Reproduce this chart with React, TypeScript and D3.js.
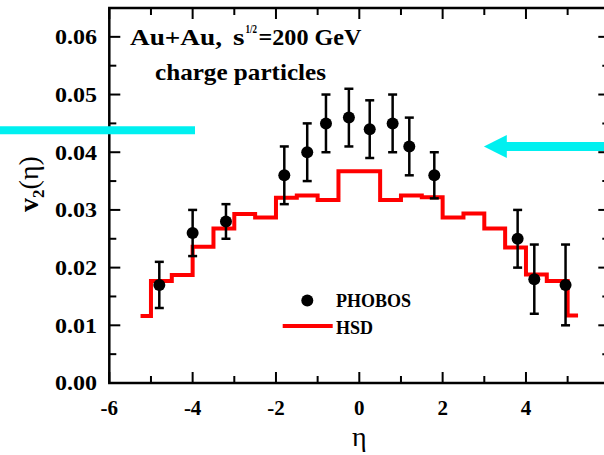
import React from "react";
import * as d3 from "d3";

// PHOBOS measured v2 vs pseudorapidity (points with symmetric errors)
const phobosEta = [-4.8, -4.0, -3.2, -1.8, -1.25, -0.8, -0.25, 0.25, 0.8, 1.2, 1.8, 3.8, 4.2, 4.95];
const phobosV2 = [0.017, 0.026, 0.028, 0.036, 0.040, 0.045, 0.046, 0.044, 0.045, 0.041, 0.036, 0.025, 0.018, 0.017];
const phobosErr = [0.004, 0.004, 0.003, 0.005, 0.005, 0.005, 0.005, 0.005, 0.005, 0.005, 0.004, 0.005, 0.006, 0.007];

// HSD histogram: bin edges and v2 per bin
const hsdEdges = [-5.25, -5, -4.5, -4, -3.5, -3, -2.5, -2, -1.5, -1, -0.5, 0.5, 1, 1.5, 2, 2.5, 3, 3.5, 4, 4.5, 5, 5.25];
const hsdV2 = [0.0116, 0.0177, 0.0187, 0.0236, 0.0268, 0.0293, 0.0287, 0.0321, 0.0325, 0.0317, 0.0367,
  0.0317, 0.0325, 0.0322, 0.0287, 0.0294, 0.0268, 0.0235, 0.0188, 0.0177, 0.0117];

const xMajorTicks = [-6, -4, -2, 0, 2, 4, 6];
const xMinorTicks = [-5, -3, -1, 1, 3, 5];
const yMajorTicks = [0, 0.01, 0.02, 0.03, 0.04, 0.05, 0.06];
const yMinorTicks = [0.005, 0.015, 0.025, 0.035, 0.045, 0.055];

const W = 604;
const H = 455;
const FONT = "'Liberation Serif', 'Times New Roman', serif";

export default function App() {
  const x = d3.scaleLinear().domain([-6, 6]).range([109.3, 609.3]);
  const y = d3.scaleLinear().domain([0, 0.065]).range([383, 8]);
  const [x0, x1] = x.range();
  const [yb, yt] = y.range();

  const stepPts: [number, number][] = hsdEdges.map((e, i) => [e, hsdV2[Math.min(i, hsdV2.length - 1)]]);
  const stepLine = d3
    .line<[number, number]>()
    .x((d) => x(d[0]))
    .y((d) => y(d[1]))
    .curve(d3.curveStepAfter)(stepPts) as string;

  const axisStroke = 2.5;
  const major = 11;
  const minor = 7;

  // annotation arrows (cyan)
  const leftBarY = y(0.0438);
  const rightArrowY = y(0.041);
  const tipX = x(2.99);
  const headX = x(3.54);
  const cyan = "#00f0f0";

  return (
    <svg width={W} height={H} style={{ position: "absolute", left: 0, top: 0, background: "#fff" }} fontFamily={FONT}>
      <rect width={W} height={H} fill="#fff" />

      {/* frame */}
      <rect x={x0} y={yt} width={x1 - x0} height={yb - yt} fill="none" stroke="#000" strokeWidth={axisStroke} />

      {/* ticks on all four sides, pointing inward */}
      {xMajorTicks.map((t) => (
        <g key={"xM" + t}>
          <line x1={x(t)} x2={x(t)} y1={yb} y2={yb - major} stroke="#000" strokeWidth={2} />
          <line x1={x(t)} x2={x(t)} y1={yt} y2={yt + major} stroke="#000" strokeWidth={2} />
        </g>
      ))}
      {xMinorTicks.map((t) => (
        <g key={"xm" + t}>
          <line x1={x(t)} x2={x(t)} y1={yb} y2={yb - minor} stroke="#000" strokeWidth={2} />
          <line x1={x(t)} x2={x(t)} y1={yt} y2={yt + minor} stroke="#000" strokeWidth={2} />
        </g>
      ))}
      {yMajorTicks.map((t) => (
        <g key={"yM" + t}>
          <line x1={x0} x2={x0 + major} y1={y(t)} y2={y(t)} stroke="#000" strokeWidth={2} />
          <line x1={x1} x2={x1 - major} y1={y(t)} y2={y(t)} stroke="#000" strokeWidth={2} />
        </g>
      ))}
      {yMinorTicks.map((t) => (
        <g key={"ym" + t}>
          <line x1={x0} x2={x0 + minor} y1={y(t)} y2={y(t)} stroke="#000" strokeWidth={2} />
          <line x1={x1} x2={x1 - minor} y1={y(t)} y2={y(t)} stroke="#000" strokeWidth={2} />
        </g>
      ))}

      {/* tick labels */}
      {xMajorTicks.map((t) => (
        <text key={"xl" + t} x={x(t)} y={415} textAnchor="middle" fontSize={21} fontWeight="bold">
          {t}
        </text>
      ))}
      {yMajorTicks.map((t) => (
        <text
          key={"yl" + t}
          x={55}
          y={y(t) + 7.3}
          fontSize={21.5}
          fontWeight="bold"
          textLength={42}
          lengthAdjust="spacingAndGlyphs"
        >
          {d3.format(".2f")(t)}
        </text>
      ))}

      {/* axis titles */}
      <text x={x(0)} y={446} textAnchor="middle" fontSize={28}>
        η
      </text>
      <text transform="translate(38,184) rotate(-90)" textAnchor="middle" fontSize={28}>
        <tspan fontWeight="bold">v</tspan>
        <tspan fontSize={17} dy={6} fontWeight="bold">2</tspan>
        <tspan dy={-6}>(η)</tspan>
      </text>

      {/* HSD step curve */}
      <path d={stepLine} fill="none" stroke="#ff0000" strokeWidth={4} strokeLinejoin="miter" />

      {/* PHOBOS points */}
      {phobosEta.map((e, i) => {
        const cx = x(e);
        const top = y(phobosV2[i] + phobosErr[i]);
        const bot = y(phobosV2[i] - phobosErr[i]);
        return (
          <g key={"p" + i}>
            <line x1={cx} x2={cx} y1={top} y2={bot} stroke="#000" strokeWidth={2.5} />
            <line x1={cx - 4.5} x2={cx + 4.5} y1={top} y2={top} stroke="#000" strokeWidth={2.5} />
            <line x1={cx - 4.5} x2={cx + 4.5} y1={bot} y2={bot} stroke="#000" strokeWidth={2.5} />
            <circle cx={cx} cy={y(phobosV2[i])} r={6} fill="#000" />
          </g>
        );
      })}

      {/* legend */}
      <circle cx={307.3} cy={300.5} r={6} fill="#000" />
      <text x={336} y={306.5} fontSize={18} fontWeight="bold">PHOBOS</text>
      <line x1={282.7} x2={332.7} y1={326} y2={326} stroke="#ff0000" strokeWidth={4} />
      <text x={336} y={333.5} fontSize={18} fontWeight="bold">HSD</text>

      {/* header text */}
      <g fontWeight="bold">
        <text x={130} y={45} fontSize={23} textLength={92} lengthAdjust="spacingAndGlyphs">Au+Au,</text>
        <text y={45} fontSize={23}>
          <tspan x={233} textLength={11.5} lengthAdjust="spacingAndGlyphs">s</tspan>
          <tspan x={245.5} dy={-12} fontSize={13} textLength={11.5} lengthAdjust="spacingAndGlyphs">1/2</tspan>
          <tspan x={258.5} dy={12} textLength={103} lengthAdjust="spacingAndGlyphs">=200 GeV</tspan>
        </text>
        <text x={155} y={80} fontSize={23} textLength={171} lengthAdjust="spacingAndGlyphs">charge particles</text>
      </g>

      {/* cyan arrows */}
      <line x1={0} x2={195} y1={leftBarY} y2={leftBarY} stroke={cyan} strokeWidth={8} />
      <line x1={headX - 1} x2={W} y1={rightArrowY} y2={rightArrowY} stroke={cyan} strokeWidth={9} />
      <polygon
        points={`${tipX},${rightArrowY} ${headX},${rightArrowY - 11.5} ${headX},${rightArrowY + 11.5}`}
        fill={cyan}
      />
    </svg>
  );
}
